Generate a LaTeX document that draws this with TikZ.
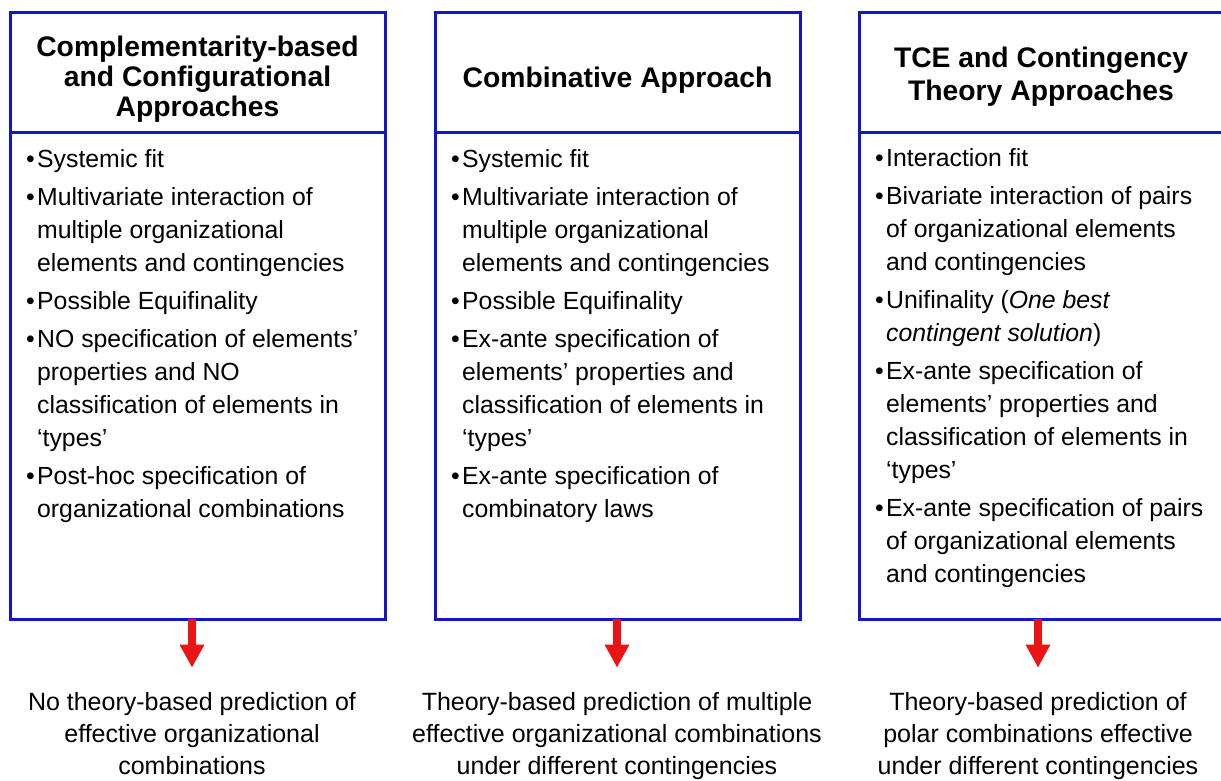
\documentclass[tikz,border=0pt]{standalone}
\usepackage{fontspec}
\setmainfont{Liberation Sans}
\usetikzlibrary{arrows.meta}
\definecolor{boxblue}{RGB}{20,20,200}
\definecolor{arrred}{RGB}{235,20,20}
\newcommand{\bul}{\makebox[11pt][l]{\textbullet}}
\newcommand{\ind}{\hspace*{11pt}}
\tikzset{
  hdrbox/.style={draw=boxblue, line width=3pt, anchor=north west, outer sep=0pt,
    inner sep=0pt, minimum height=120pt},
  hdrtext/.style={inner sep=0pt, align=center, font=\fontsize{28.3}{30}\selectfont\bfseries},
  bodybox/.style={draw=boxblue, line width=3pt, anchor=north west, outer sep=0pt,
    inner sep=0pt, minimum height=487pt},
  listtext/.style={anchor=base west, inner sep=0pt, font=\fontsize{24.8}{33}\selectfont},
  resulttext/.style={anchor=base, inner sep=0pt, font=\fontsize{25}{32}\selectfont},
  redarrow/.style={draw=arrred, line width=8pt, -{Triangle[width=23pt,length=23pt]}, shorten >=24pt}
}
\begin{document}
\begin{tikzpicture}[x=1pt,y=-1pt]
\useasboundingbox (0,0) rectangle (1221,780);
\clip (0,0) rectangle (1221,780);
\fill[white] (0,0) rectangle (1221,780);

% Box 1
\node[hdrbox, minimum width=375pt] (h1) at (10,12) {};
\node[hdrtext] (ht1) at ([yshift=-7pt]h1.center) {Complementarity-based\\and Configurational\\Approaches};
\node[bodybox, minimum width=375pt] (b1) at (h1.south west) {};
\node[listtext] (l1) at (26,167) {\parbox[t]{355pt}{\raggedright
\bul Systemic fit\\[5pt]
\bul Multivariate interaction of\\
\ind multiple organizational\\
\ind elements and contingencies\\[5pt]
\bul Possible Equifinality\\[5pt]
\bul NO specification of elements’\\
\ind properties and NO\\
\ind classification of elements in\\
\ind ‘types’\\[5pt]
\bul Post-hoc specification of\\
\ind organizational combinations}};

% Box 2
\node[hdrbox, minimum width=365pt] (h2) at (435,12) {};
\node[hdrtext] (ht2) at ([yshift=-8pt]h2.center) {Combinative Approach};
\node[bodybox, minimum width=365pt] (b2) at (h2.south west) {};
\node[listtext] (l2) at (451,167) {\parbox[t]{345pt}{\raggedright
\bul Systemic fit\\[5pt]
\bul Multivariate interaction of\\
\ind multiple organizational\\
\ind elements and contingencies\\[5pt]
\bul Possible Equifinality\\[5pt]
\bul Ex-ante specification of\\
\ind elements’ properties and\\
\ind classification of elements in\\
\ind ‘types’\\[5pt]
\bul Ex-ante specification of\\
\ind combinatory laws}};

% Box 3
\node[hdrbox, minimum width=364pt] (h3) at (859,12) {};
\node[hdrtext, font=\fontsize{28.3}{33}\selectfont\bfseries] (ht3) at ([yshift=-4.5pt]h3.center) {TCE and Contingency\\Theory Approaches};
\node[bodybox, minimum width=364pt] (b3) at (h3.south west) {};
\node[listtext] (l3) at (875,166) {\parbox[t]{345pt}{\raggedright
\bul Interaction fit\\[5pt]
\bul Bivariate interaction of pairs\\
\ind of organizational elements\\
\ind and contingencies\\[5pt]
\bul Unifinality (\textit{One best}\\
\ind \textit{contingent solution})\\[5pt]
\bul Ex-ante specification of\\
\ind elements’ properties and\\
\ind classification of elements in\\
\ind ‘types’\\[5pt]
\bul Ex-ante specification of pairs\\
\ind of organizational elements\\
\ind and contingencies}};

% Results
\node[resulttext] (t1) at (192,710) {\parbox[t]{370pt}{\centering
No theory-based prediction of\\effective organizational\\combinations}};
\node[resulttext] (t2) at (617,710) {\parbox[t]{440pt}{\centering
Theory-based prediction of multiple\\effective organizational combinations\\under different contingencies}};
\node[resulttext] (t3) at (1038,710) {\parbox[t]{360pt}{\centering
Theory-based prediction of\\polar combinations effective\\under different contingencies}};

% Arrows
\draw[redarrow] (b1.south -| t1.north) -- (t1.north);
\draw[redarrow] (b2.south -| t2.north) -- (t2.north);
\draw[redarrow] (b3.south -| t3.north) -- (t3.north);
\end{tikzpicture}
\end{document}
